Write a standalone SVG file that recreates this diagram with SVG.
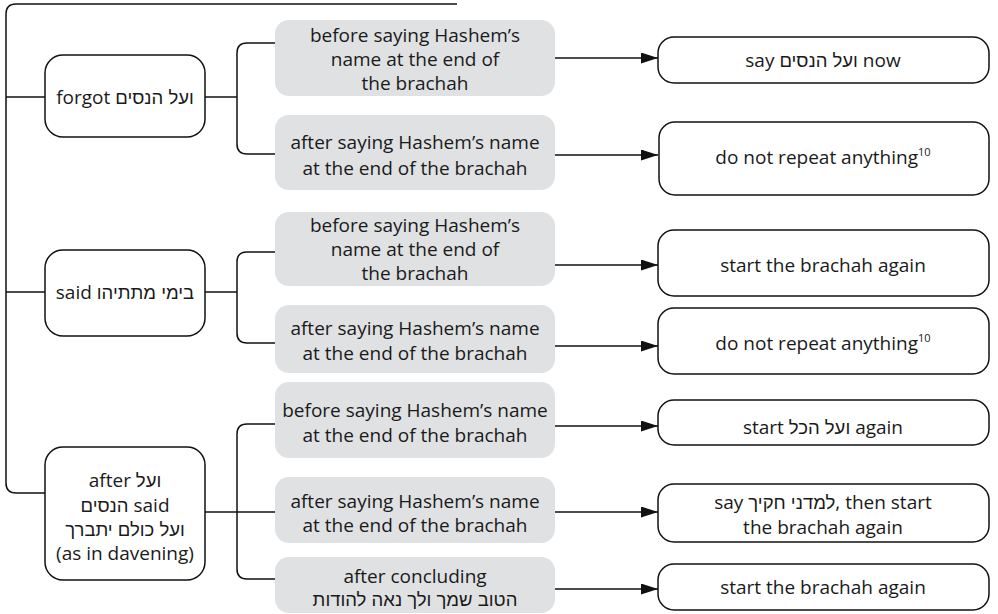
<svg xmlns="http://www.w3.org/2000/svg" width="998" height="614" viewBox="0 0 998 614">
<style>
text{font-family:"Open Sans","Liberation Sans","DejaVu Sans",sans-serif;font-size:19px;fill:#1a1a1a;text-anchor:middle}
.he{font-family:"Liberation Sans","DejaVu Sans",sans-serif;font-size:18.5px}
.sup{font-size:11px;fill:#1a1a1a}
.node{fill:#fff;stroke:#111;stroke-width:1.5}
.mid{fill:#e0e1e3;stroke:none}
.res{fill:#fff;stroke:#111;stroke-width:1.5}
.c path{fill:none;stroke:#111;stroke-width:1.5}
.c .a{marker-end:url(#arr)}
</style>
<defs>
<marker id="arr" markerUnits="userSpaceOnUse" markerWidth="17" markerHeight="11" refX="17" refY="5.5" orient="auto">
<path d="M0,0 L17,5.5 L0,11 z" fill="#111"/>
</marker>
</defs>
<g id="connectors" class="c">
<path d="M457 4 H16 Q6 4 6 14 V483 Q6 493 16 493 H45"/>
<path d="M6 97 H45"/>
<path d="M6 292 H45"/>
<path d="M205 97 H237"/>
<path d="M275 43 H247 Q237 43 237 53 V144 Q237 154 247 154 H275"/>
<path d="M205 292 H237"/>
<path d="M275 252 H247 Q237 252 237 262 V333 Q237 343 247 343 H275"/>
<path d="M205 512 H275"/>
<path d="M275 424 H247 Q237 424 237 434 V569 Q237 579 247 579 H275"/>
<path class="a" d="M555 58 H658"/>
<path class="a" d="M555 155 H658"/>
<path class="a" d="M555 265 H658"/>
<path class="a" d="M555 346 H658"/>
<path class="a" d="M555 426 H658"/>
<path class="a" d="M555 512 H658"/>
<path class="a" d="M555 589 H658"/>
</g>
<g id="n1"><rect class="node" x="45" y="55" width="160" height="82" rx="18"/>
<text x="125" y="104">forgot <tspan class="he">ועל הנסים</tspan></text></g>
<g id="n2"><rect class="node" x="45" y="250" width="160" height="86" rx="18"/>
<text x="125" y="299">said <tspan class="he">בימי מתתיהו</tspan></text></g>
<g id="n3"><rect class="node" x="45" y="447" width="160" height="133" rx="18"/>
<text x="125" y="487">after <tspan class="he">ועל</tspan></text>
<text x="125" y="512"><tspan class="he">הנסים</tspan> said</text>
<text x="125" y="536"><tspan class="he">ועל כולם יתברך</tspan></text>
<text x="125" y="560">(as in davening)</text></g>
<g id="m1"><rect class="mid" x="275" y="20" width="280" height="76" rx="14"/>
<text x="415" y="42">before saying Hashem’s</text>
<text x="415" y="66">name at the end of</text>
<text x="415" y="90">the brachah</text></g>
<g id="m2"><rect class="mid" x="275" y="115" width="280" height="75" rx="14"/>
<text x="415" y="149">after saying Hashem’s name</text>
<text x="415" y="175">at the end of the brachah</text></g>
<g id="m3"><rect class="mid" x="275" y="212" width="280" height="74" rx="14"/>
<text x="415" y="232">before saying Hashem’s</text>
<text x="415" y="256">name at the end of</text>
<text x="415" y="280">the brachah</text></g>
<g id="m4"><rect class="mid" x="275" y="305" width="280" height="68" rx="14"/>
<text x="415" y="335">after saying Hashem’s name</text>
<text x="415" y="360">at the end of the brachah</text></g>
<g id="m5"><rect class="mid" x="275" y="382" width="280" height="76" rx="14"/>
<text x="415" y="417">before saying Hashem’s name</text>
<text x="415" y="442">at the end of the brachah</text></g>
<g id="m6"><rect class="mid" x="275" y="477" width="280" height="66" rx="14"/>
<text x="415" y="508">after saying Hashem’s name</text>
<text x="415" y="532">at the end of the brachah</text></g>
<g id="m7"><rect class="mid" x="275" y="557" width="280" height="56" rx="14"/>
<text x="415" y="583">after concluding</text>
<text x="415" y="606"><tspan class="he">הטוב שמך ולך נאה להודות</tspan></text></g>
<g id="r1"><rect class="res" x="658" y="37" width="331" height="46" rx="16"/>
<text x="823" y="67">say <tspan class="he">ועל הנסים</tspan> now</text></g>
<g id="r2"><rect class="res" x="659" y="122" width="330" height="73" rx="16"/>
<text x="823" y="164">do not repeat anything<tspan class="sup" dy="-8">10</tspan></text></g>
<g id="r3"><rect class="res" x="658" y="230" width="331" height="66" rx="16"/>
<text x="823" y="272">start the brachah again</text></g>
<g id="r4"><rect class="res" x="658" y="308" width="331" height="66" rx="16"/>
<text x="823" y="350">do not repeat anything<tspan class="sup" dy="-8">10</tspan></text></g>
<g id="r5"><rect class="res" x="658" y="400" width="331" height="45" rx="16"/>
<text x="823" y="434">start <tspan class="he">ועל הכל</tspan> again</text></g>
<g id="r6"><rect class="res" x="658" y="484" width="331" height="58" rx="16"/>
<text x="823" y="509">say <tspan class="he">למדני חקיך</tspan>, then start</text>
<text x="823" y="534">the brachah again</text></g>
<g id="r7"><rect class="res" x="658" y="564" width="331" height="46" rx="16"/>
<text x="823" y="594">start the brachah again</text></g>
</svg>
